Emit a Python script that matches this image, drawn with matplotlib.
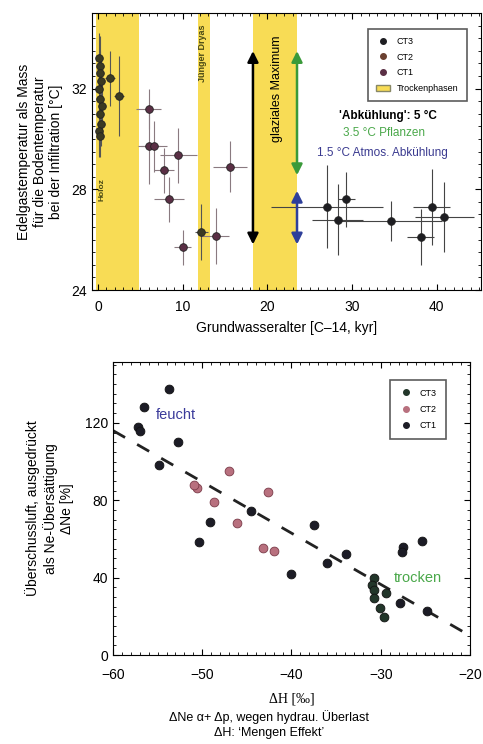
import matplotlib
matplotlib.use("Agg")
import matplotlib.pyplot as plt
from matplotlib.ticker import MultipleLocator
from matplotlib.patches import Patch
from matplotlib.lines import Line2D

plt.rcParams['font.family'] = ['Liberation Sans', 'DejaVu Sans']

# ---------------- top panel data ----------------
ct3_age = [0.1, 0.3, 0.2, 0.4, 0.1, 0.3, 0.5, 0.2, 0.4, 0.1, 0.3, 1.4, 2.5, 12.2]
ct3_temp = [33.2, 32.9, 32.6, 32.3, 32.0, 31.6, 31.3, 31.0, 30.6, 30.3, 30.1, 32.4, 31.7, 26.3]
ct3_age_err = [0.3, 0.3, 0.3, 0.3, 0.3, 0.3, 0.3, 0.3, 0.3, 0.3, 0.3, 0.6, 0.6, 0.8]
ct3_temp_err = [1.0, 1.2, 0.9, 1.0, 1.1, 0.9, 1.0, 1.1, 0.9, 1.0, 0.8, 1.1, 1.6, 1.1]

ct2_age = [6.0, 6.0, 6.6, 9.5, 7.8, 8.4, 10.0, 13.9, 15.6]
ct2_temp = [31.2, 29.7, 29.7, 29.35, 28.75, 27.6, 25.7, 26.15, 28.9]
ct2_age_err = [1.5, 1.3, 1.5, 2.2, 1.2, 1.8, 1.0, 1.6, 2.0]
ct2_temp_err = [0.8, 1.5, 1.0, 1.1, 0.9, 0.9, 0.7, 1.1, 1.0]

ct1_age = [27.0, 29.3, 28.3, 34.6, 38.1, 39.4, 40.9]
ct1_temp = [27.3, 27.6, 26.8, 26.75, 26.1, 27.3, 26.9]
ct1_age_err = [6.6, 1.0, 3.0, 6.0, 1.6, 2.2, 3.5]
ct1_temp_err = [1.65, 1.1, 1.4, 0.8, 1.1, 1.5, 1.4]

dry_start = [-0.2, 11.8, 18.3]
dry_end = [4.9, 13.2, 23.5]
dry_names = ['Holoz', 'Jünger Dryas', '']

# ---------------- bottom panel data ----------------
b_ct3_dh = [-30.7, -31.0, -30.8, -30.7, -30.1, -29.6, -29.4]
b_ct3_ne = [40, 36, 33.6, 29.5, 24.3, 19.7, 32]

b_ct2_dh = [-50.6, -50.9, -47.0, -48.7, -42.6, -46.1, -43.2, -42.0]
b_ct2_ne = [86.4, 88, 95, 79, 84, 68, 55.4, 54]

b_ct1_dh = [-53.7, -56.5, -57.2, -57.0, -52.7, -54.9, -49.1, -50.4, -44.5,
            -37.5, -40.1, -36.0, -33.9, -27.8, -27.5, -27.6, -25.4, -24.8]
b_ct1_ne = [137.6, 128, 118, 116, 110, 98, 68.5, 58.5, 74.5,
            67, 42, 47.6, 52, 27, 56, 53, 59, 23]

fit_dh = [-60, -20]
fit_ne = [116, 10]

yellow = '#f8dc55'
c3_top, c2_top, c1_top = '#3b3a22', '#5a2f45', '#1e1e22'
c3_bot, c2_bot, c1_bot = '#22362a', '#b8707e', '#1c1c26'

fig = plt.figure(figsize=(4.83, 7.44), dpi=100)

# ================= TOP =================
ax = fig.add_axes([0.1905, 0.6102, 0.805, 0.3723])
for s, e in zip(dry_start, dry_end):
    ax.axvspan(s, e, color=yellow, lw=0, zorder=0)
ax.text(0.5, 28.0, dry_names[0], rotation=90, fontsize=6, fontweight='bold',
        ha='center', va='center', color='#4a4a15')
ax.text(12.4, 33.4, dry_names[1], rotation=90, fontsize=6.5, fontweight='bold',
        ha='center', va='center', color='#4a4a15')

ekw = dict(fmt='o', ms=5.5, elinewidth=0.8, capsize=0, zorder=3, mec='#222222', mew=0.6)
ax.errorbar(ct3_age, ct3_temp, xerr=ct3_age_err, yerr=ct3_temp_err, color=c3_top, ecolor='#555555', **ekw)
ax.errorbar(ct2_age, ct2_temp, xerr=ct2_age_err, yerr=ct2_temp_err, color=c2_top, ecolor='#8a7a80', **ekw)
ax.errorbar(ct1_age, ct1_temp, xerr=ct1_age_err, yerr=ct1_temp_err, color=c1_top, ecolor='#444444', **ekw)

# arrows
ax.annotate('', xy=(18.3, 33.6), xytext=(18.3, 25.7),
            arrowprops=dict(arrowstyle='<|-|>', color='black', lw=1.8, mutation_scale=16))
ax.annotate('', xy=(23.5, 33.6), xytext=(23.5, 28.45),
            arrowprops=dict(arrowstyle='<|-|>', color='#3a9a3a', lw=1.8, mutation_scale=16))
ax.annotate('', xy=(23.5, 28.05), xytext=(23.5, 25.7),
            arrowprops=dict(arrowstyle='<|-|>', color='#2e3f9a', lw=1.8, mutation_scale=16))
ax.text(21.1, 32.0, 'glaziales Maximum', rotation=90, fontsize=9, ha='center', va='center')
ax.text(34.2, 30.9, "'Abkühlung': 5 °C", fontsize=8.5, fontweight='bold', ha='center', va='center')
ax.text(33.8, 30.25, '3.5 °C Pflanzen', fontsize=8.5, color='#4aa84a', ha='center', va='center')
ax.text(33.6, 29.45, '1.5 °C Atmos. Abkühlung', fontsize=8.5, color='#3a3a90', ha='center', va='center')

ax.set_xlim(-0.7, 45.2)
ax.set_ylim(24, 35)
ax.set_xticks([0, 10, 20, 30, 40])
ax.set_yticks([24, 28, 32])
ax.xaxis.set_minor_locator(MultipleLocator(1))
ax.yaxis.set_minor_locator(MultipleLocator(0.5))
ax.tick_params(which='both', direction='in', top=True, right=True, labelsize=10)
ax.tick_params(which='major', length=4)
ax.tick_params(which='minor', length=2)
ax.tick_params(axis='x', pad=7)
ax.set_xlabel('Grundwasseralter [C–14, kyr]', fontsize=10, labelpad=5)
ax.set_ylabel('Edelgastemperatur als Mass\nfür die Bodentemperatur\nbei der Infiltration [°C]', fontsize=10, labelpad=6)

h = [Line2D([], [], marker='o', ls='', color=c1_top, ms=4),
     Line2D([], [], marker='o', ls='', color='#6a4030', ms=4),
     Line2D([], [], marker='o', ls='', color=c2_top, ms=4),
     Patch(facecolor=yellow, edgecolor='#888866')]
leg = ax.legend(h, ['CT3', 'CT2', 'CT1', 'Trockenphasen'], loc='upper right', fontsize=6.5,
                frameon=True, fancybox=False, edgecolor='#333333', handlelength=1.5,
                borderpad=0.9, labelspacing=0.75, bbox_to_anchor=(0.975, 0.96))
leg.get_frame().set_linewidth(1.2)

# ================= BOTTOM =================
bx = fig.add_axes([0.234, 0.1196, 0.739, 0.394])
bx.plot(fit_dh, fit_ne, ls=(0, (5, 5)), color='#222222', lw=2.0, zorder=2)
skw = dict(s=40, zorder=3, linewidths=0.6)
bx.scatter(b_ct2_dh, b_ct2_ne, color=c2_bot, edgecolors='#7a3a48', **skw)
bx.scatter(b_ct1_dh, b_ct1_ne, color=c1_bot, edgecolors='#111111', **skw)
bx.scatter(b_ct3_dh, b_ct3_ne, color=c3_bot, edgecolors='#111111', **skw)
bx.text(-55.2, 124, 'feucht', fontsize=10.5, color='#3a3a9a', ha='left', va='center')
bx.text(-28.5, 40, 'trocken', fontsize=10.5, color='#4aa84a', ha='left', va='center')

bx.set_xlim(-60, -20)
bx.set_ylim(0, 151.5)
bx.set_xticks([-60, -50, -40, -30, -20])
bx.set_xticklabels(['−60', '−50', '−40', '−30', '−20'])
bx.set_yticks([0, 40, 80, 120])
bx.xaxis.set_minor_locator(MultipleLocator(1))
bx.yaxis.set_minor_locator(MultipleLocator(5))
bx.tick_params(which='both', direction='in', top=True, right=True, labelsize=10)
bx.tick_params(which='major', length=4)
bx.tick_params(which='minor', length=2)
bx.tick_params(axis='x', pad=9)
bx.set_ylabel('Überschussluft, ausgedrückt\nals Ne-Übersättigung\nΔNe [%]', fontsize=10, labelpad=8)
bx.set_xlabel('ΔH [‰]', fontsize=10, labelpad=8, family=['Liberation Serif', 'DejaVu Serif'])

h2 = [Line2D([], [], marker='o', ls='', color=c3_bot, ms=4),
      Line2D([], [], marker='o', ls='', color=c2_bot, ms=4),
      Line2D([], [], marker='o', ls='', color=c1_bot, ms=4)]
leg2 = bx.legend(h2, ['CT3', 'CT2', 'CT1'], loc='upper right', fontsize=6.5, frameon=True,
                 fancybox=False, edgecolor='#333333', handlelength=1.5, borderpad=1.0,
                 labelspacing=0.8, bbox_to_anchor=(0.945, 0.955))
leg2.get_frame().set_linewidth(1.2)

fig.text(0.557, 1 - 717 / 744, 'ΔNe α+ Δp, wegen hydrau. Überlast', fontsize=9, ha='center', va='center')
fig.text(0.557, 1 - 733 / 744, "ΔH: ‘Mengen Effekt’", fontsize=9, ha='center', va='center')

fig.savefig('out.png', dpi=100)
